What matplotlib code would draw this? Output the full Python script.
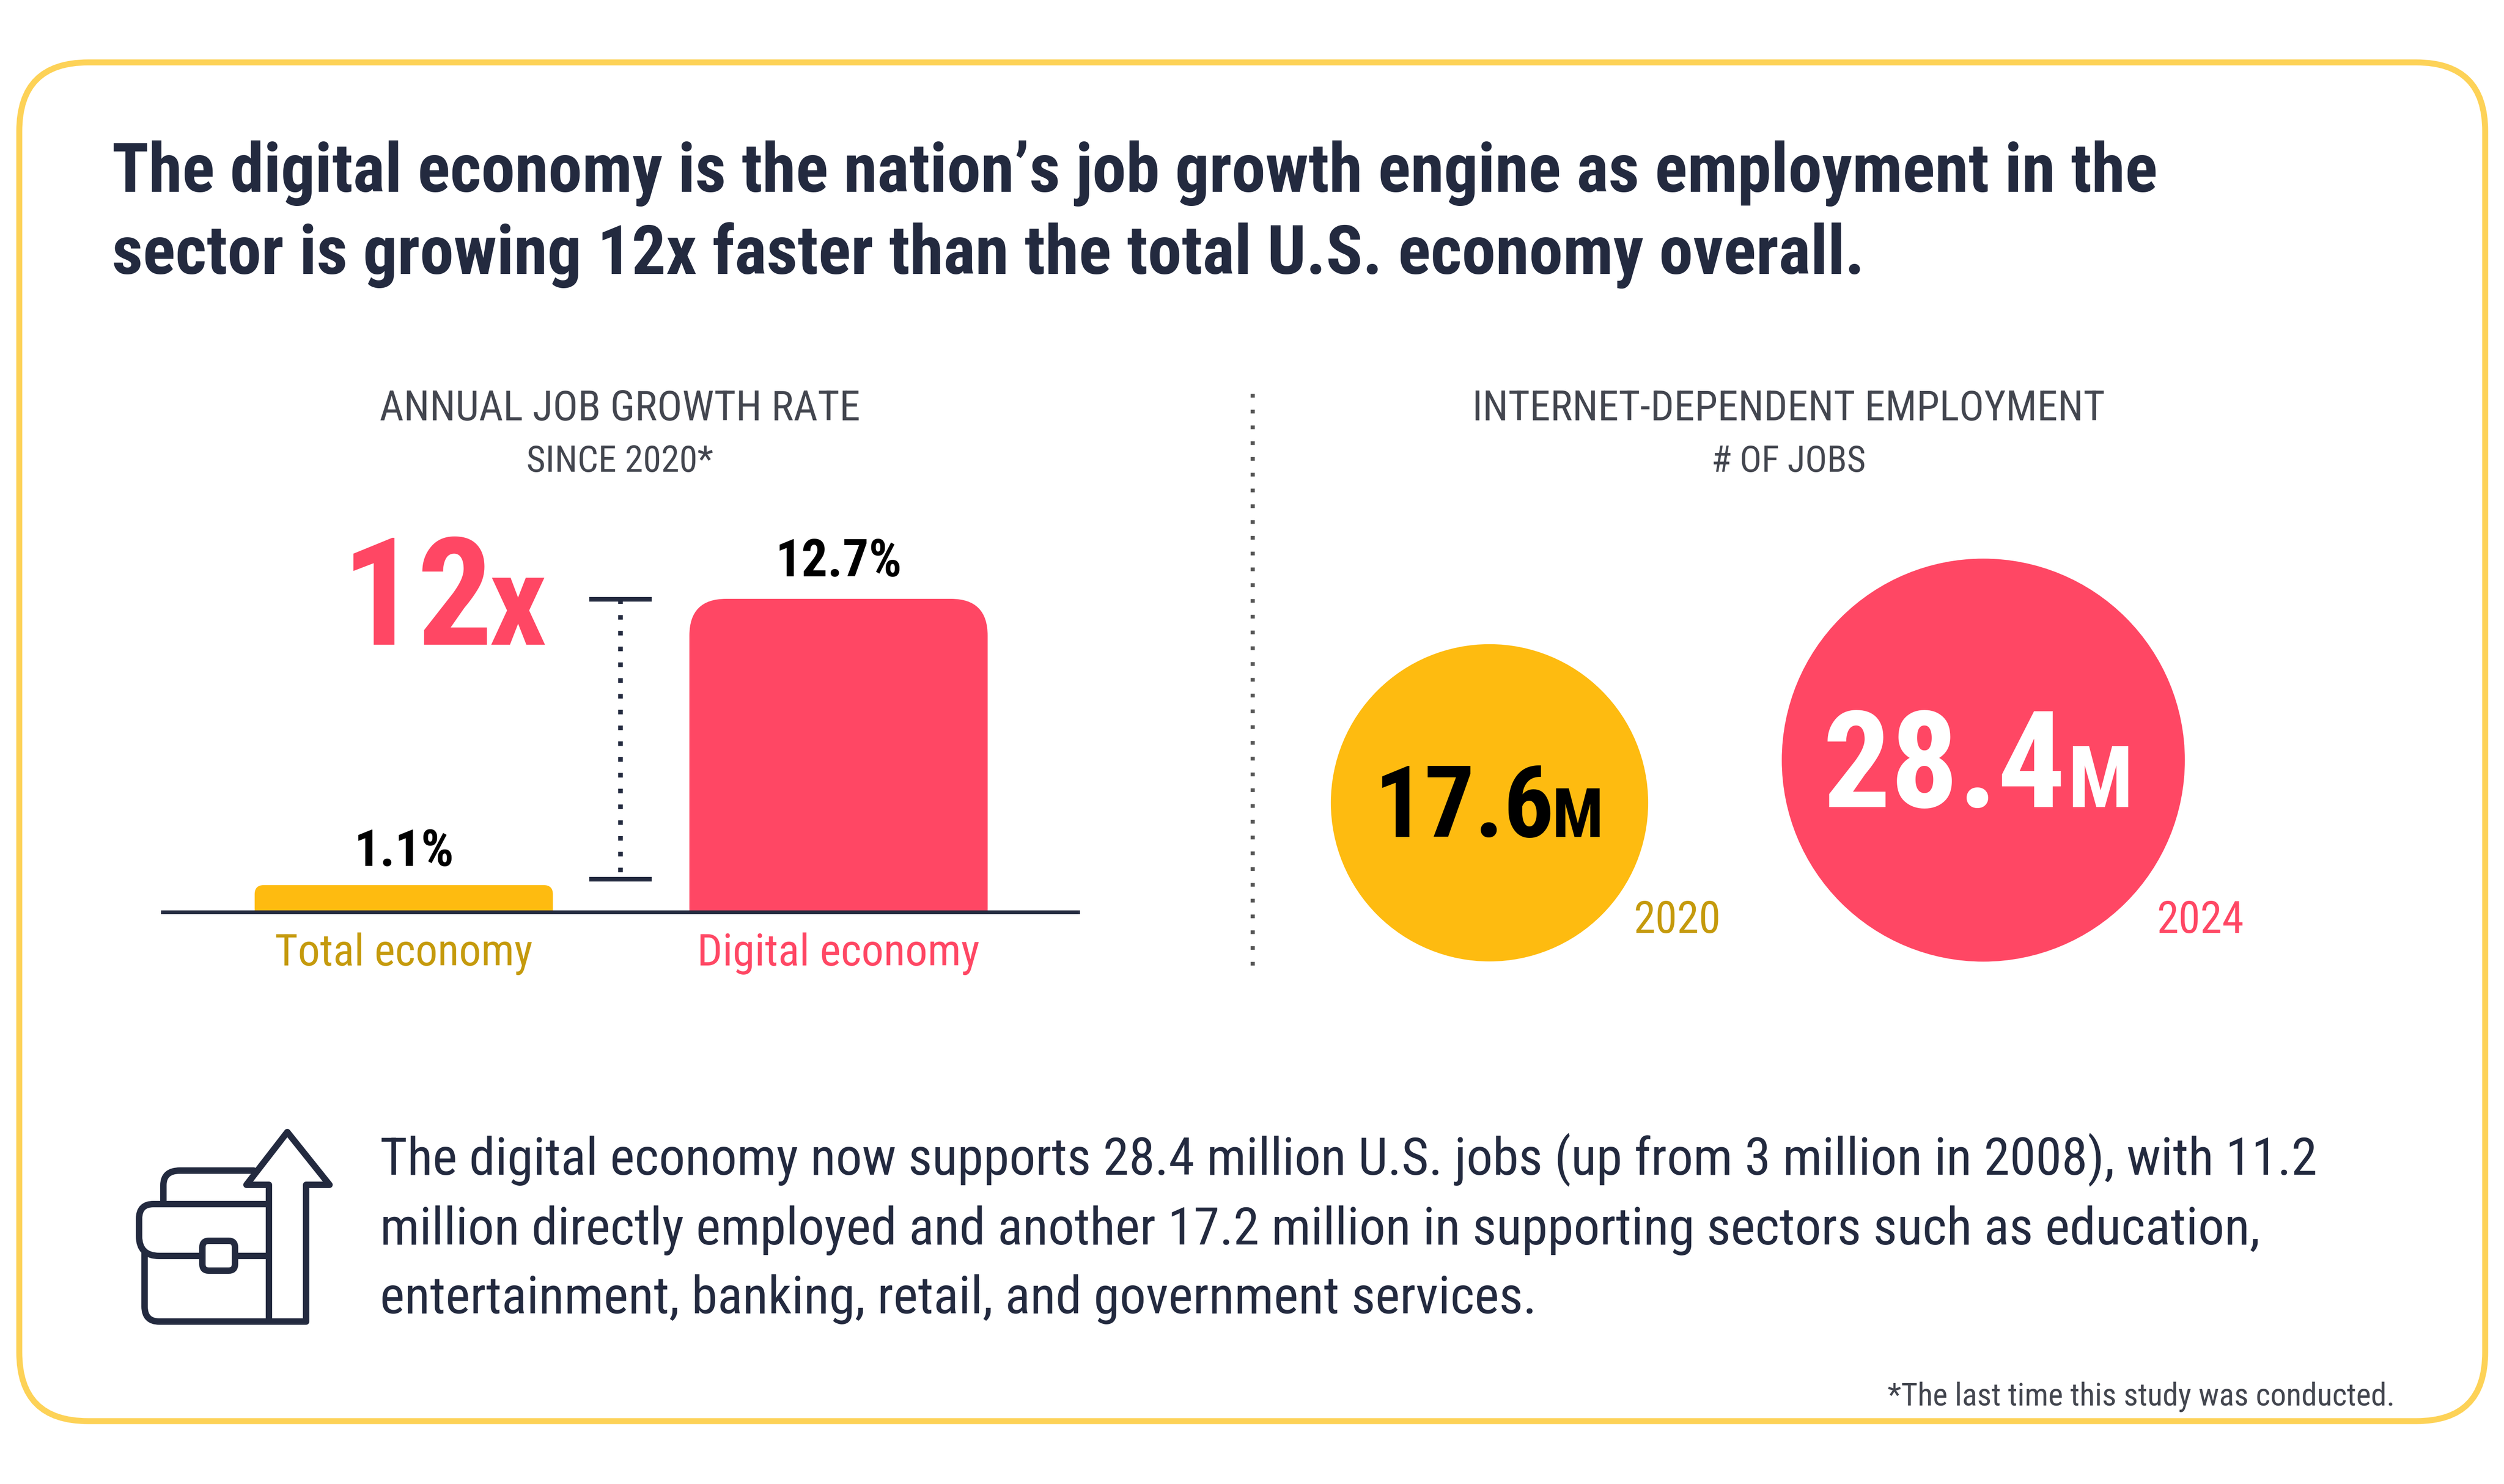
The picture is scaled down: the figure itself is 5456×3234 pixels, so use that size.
import matplotlib
matplotlib.use("Agg")
import matplotlib.pyplot as plt
from matplotlib.patches import FancyBboxPatch, PathPatch
from matplotlib.path import Path

W, H = 5456, 3234
DPI = 400
NARROW = ["Roboto Condensed", "Barlow Condensed", "Roboto"]

# data
bar_labels = ["Total economy", "Digital economy"]
bar_values = [1.1, 12.7]
bar_value_labels = ["1.1%", "12.7%"]
circle_years = ["2020", "2024"]
circle_values = [17.6, 28.4]
circle_labels = ["17.6", "28.4"]

title_lines = ["The digital economy is the nation’s job growth engine as employment in the",
               "sector is growing 12x faster than the total U.S. economy overall."]
body_lines = ["The digital economy now supports 28.4 million U.S. jobs (up from 3 million in 2008), with 11.2",
              "million directly employed and another 17.2 million in supporting sectors such as education,",
              "entertainment, banking, retail, and government services."]

NAVY = "#232a3f"
GREY = "#43464f"
PINK = "#ff4764"
YELLOW = "#febb10"
GOLD = "#c59a0c"
BORDER = "#fdd257"

plt.rcParams["font.family"] = NARROW
fig = plt.figure(figsize=(W / DPI, H / DPI), dpi=DPI, facecolor="white")
renderer = fig.canvas.get_renderer()

# whole figure axes in pixels, used for layout of text and the icon
ax = fig.add_axes([0, 0, 1, 1])
ax.set_xlim(0, W)
ax.set_ylim(H, 0)
ax.axis("off")


def lw(px):
    return px * 72 / DPI


def fit(t, width):
    # scale the font so the text is as wide as in the reference
    t.set_fontsize(t.get_fontsize() * width / t.get_window_extent(renderer).width)
    return t


ax.add_patch(FancyBboxPatch((42, 136), 5373, 2961, boxstyle="round,pad=0,rounding_size=150",
                            fc="none", ec=BORDER, lw=lw(13)))

title_widths = [4457, 3820]
for y, line, w in zip([418, 597], title_lines, title_widths):
    fit(ax.text(244, y, line, fontsize=29, fontweight="bold", color=NAVY, va="baseline"), w)

fit(ax.text(1351, 916, "ANNUAL JOB GROWTH RATE", fontsize=17, color=GREY, ha="center", va="baseline"), 1048)
fit(ax.text(1351, 1028, "SINCE 2020*", fontsize=15, color=GREY, ha="center", va="baseline"), 407)
fit(ax.text(3897, 916, "INTERNET-DEPENDENT EMPLOYMENT", fontsize=17, color=GREY, ha="center", va="baseline"), 1380)
fit(ax.text(3897, 1028, "# OF JOBS", fontsize=15, color=GREY, ha="center", va="baseline"), 337)

# divider and the 12x bracket
ax.plot([2729, 2729], [858, 2105], color="#555555", lw=lw(9), ls=(0, (0.9, 2.92)))
ax.plot([1352, 1352], [1306, 1916], color=NAVY, lw=lw(10), ls=(0, (1, 2.44)))
ax.plot([1289, 1415], [1306, 1306], color=NAVY, lw=lw(10))
ax.plot([1289, 1415], [1916, 1916], color=NAVY, lw=lw(10))
fit(ax.text(745, 1405, "12", fontsize=60, fontweight="bold", color=PINK, va="baseline"), 330)
fit(ax.text(1066, 1405, "x", fontsize=53, fontweight="bold", color=PINK, va="baseline"), 125)

# bars
bar_left, bar_right, base_y, px_top = 355, 2349, 1988, 1305
ax_bar = fig.add_axes([bar_left / W, 1 - base_y / H, (bar_right - bar_left) / W, (base_y - px_top) / H])
ax_bar.patch.set_visible(False)
x_unit = 947
ax_bar.set_xlim(-0.554, 1.551)
ax_bar.set_ylim(0, 12.7)
y_unit = (base_y - px_top) / 12.7
for s in ["top", "left", "right"]:
    ax_bar.spines[s].set_visible(False)
ax_bar.spines["bottom"].set_linewidth(lw(8))
ax_bar.spines["bottom"].set_color(NAVY)
ax_bar.set_yticks([])
ax_bar.set_xticks([0, 1])
ax_bar.set_xticklabels(bar_labels, fontsize=19)
ax_bar.tick_params(axis="x", length=0, pad=8)
ax_bar.get_xticklabels()[0].set_color(GOLD)
ax_bar.get_xticklabels()[1].set_color(PINK)
for t, w in zip(ax_bar.get_xticklabels(), [562, 616]):
    fit(t, w)


def rounded_bar(a, x, value, width, r_px, color):
    # rectangle with the top corners rounded, corner size given in pixels
    rx, ry = r_px / x_unit, r_px / y_unit
    l, r = x - width / 2, x + width / 2
    verts = [(l, 0), (l, value - ry), (l, value), (l + rx, value), (r - rx, value),
             (r, value), (r, value - ry), (r, 0), (l, 0)]
    codes = [Path.MOVETO, Path.LINETO, Path.CURVE3, Path.CURVE3, Path.LINETO,
             Path.CURVE3, Path.CURVE3, Path.LINETO, Path.CLOSEPOLY]
    a.add_patch(PathPatch(Path(verts, codes), fc=color, ec="none", zorder=1))


for i, (v, c, r_px, w, off) in enumerate(zip(bar_values, [YELLOW, PINK], [20, 80], [218, 276], [7.6, 8.8])):
    rounded_bar(ax_bar, i, v, 0.686, r_px, c)
    fit(ax_bar.annotate(bar_value_labels[i], (i, v), xytext=(0, off), textcoords="offset points",
                        ha="center", va="baseline", fontsize=22, fontweight="bold", color="black"), w)

# circles, area follows the value and the bottoms line up
circle_x = [3245, 4321]
circle_bottom = 2095
k = 82.4
num_x, num_w, num_base = [2994, 3972], [392, 530], [1824, 1759]
m_x, m_w = [3382, 4505], [112, 142]
year_x = [3560, 4700]
for i, (x, v, lab, yr) in enumerate(zip(circle_x, circle_values, circle_labels, circle_years)):
    r = k * v ** 0.5
    c, tc, yc = [(YELLOW, "black", GOLD), (PINK, "white", PINK)][i]
    ax.scatter([x], [circle_bottom - r], s=880 * v, color=c, linewidths=0, zorder=2)
    fit(ax.text(num_x[i], num_base[i], lab, fontsize=40, fontweight="bold", color=tc, va="baseline", zorder=3), num_w[i])
    fit(ax.text(m_x[i], num_base[i], "M", fontsize=28, fontweight="bold", color=tc, va="baseline", zorder=3), m_w[i])
    fit(ax.text(year_x[i], 2033, yr, fontsize=17.5, color=yc, va="baseline"), 190)

# icon
ICON_LW = lw(14)


def icon(verts, codes):
    ax.add_patch(PathPatch(Path(verts, codes), fc="none", ec=NAVY, lw=ICON_LW, capstyle="round", joinstyle="round"))


M, L, C = Path.MOVETO, Path.LINETO, Path.CURVE3
icon([(586, 2880), (586, 2582), (537, 2582), (626, 2467), (718, 2582), (667, 2582), (667, 2880), (347, 2880),
      (315, 2880), (315, 2847), (315, 2727)],
     [M, L, L, L, L, L, L, L, C, C, L])
icon([(356, 2624), (356, 2583), (356, 2551), (392, 2551), (553, 2551)], [M, L, C, C, L])
icon([(586, 2624), (334, 2624), (303, 2624), (303, 2656), (303, 2694), (303, 2737), (347, 2737), (441, 2737)],
     [M, L, C, C, L, C, C, L])
icon([(512, 2737), (586, 2737)], [M, L])
ax.add_patch(FancyBboxPatch((441, 2704), 71, 65, boxstyle="round,pad=0,rounding_size=14",
                            fc="white", ec=NAVY, lw=ICON_LW))

for y, line, w in zip([2560, 2712, 2862], body_lines, [4228, 4103, 2525]):
    fit(ax.text(828, y, line, fontsize=21.5, color=NAVY, va="baseline"), w)

fit(ax.text(5218, 3062, "*The last time this study was conducted.", fontsize=13.5, color=GREY, ha="right", va="baseline"), 1105)

fig.savefig("out.png", dpi=DPI, facecolor="white")
